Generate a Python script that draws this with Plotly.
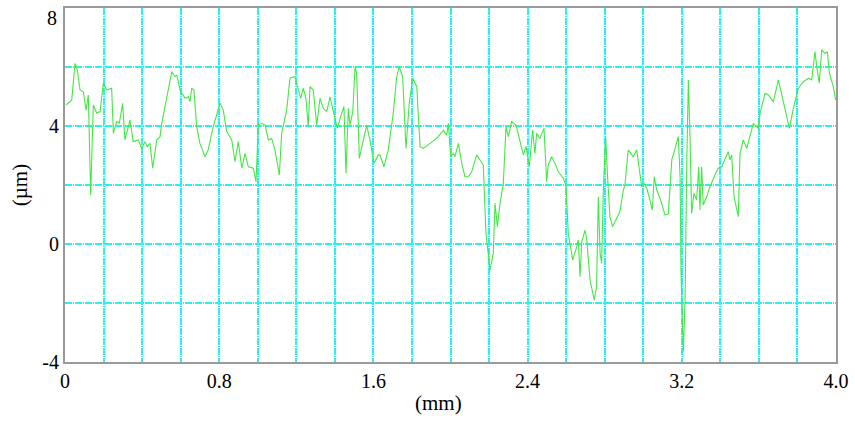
import plotly.graph_objects as go

# Profile position (mm) and height (µm)
x_mm = [0.005, 0.035, 0.052, 0.064, 0.078, 0.095, 0.109, 0.121, 0.133, 0.147, 0.164, 0.182, 0.199, 0.216, 0.242,
        0.251, 0.268, 0.282, 0.299, 0.311, 0.337, 0.354, 0.380, 0.398, 0.415, 0.427, 0.441, 0.455, 0.476, 0.493,
        0.502, 0.519, 0.554, 0.571, 0.580, 0.597, 0.623, 0.640, 0.649, 0.657, 0.669, 0.683, 0.700, 0.726, 0.743,
        0.769, 0.804, 0.821, 0.839, 0.865, 0.882, 0.899, 0.917, 0.934, 0.951, 0.977, 0.991, 1.003, 1.020, 1.038,
        1.055, 1.072, 1.089, 1.112, 1.124, 1.150, 1.167, 1.193, 1.210, 1.223, 1.236, 1.250, 1.262, 1.271, 1.288,
        1.306, 1.323, 1.340, 1.358, 1.375, 1.392, 1.413, 1.430, 1.447, 1.458, 1.470, 1.479, 1.493, 1.505, 1.513,
        1.527, 1.548, 1.565, 1.582, 1.603, 1.625, 1.634, 1.655, 1.677, 1.703, 1.721, 1.734, 1.752, 1.769, 1.786,
        1.804, 1.825, 1.842, 1.859, 1.894, 1.928, 1.963, 1.980, 1.989, 2.001, 2.015, 2.023, 2.041, 2.058, 2.075,
        2.092, 2.110, 2.136, 2.153, 2.170, 2.184, 2.205, 2.222, 2.231, 2.243, 2.257, 2.274, 2.288, 2.300, 2.317,
        2.340, 2.361, 2.378, 2.392, 2.409, 2.426, 2.438, 2.447, 2.464, 2.485, 2.499, 2.507, 2.525, 2.542, 2.559,
        2.585, 2.599, 2.611, 2.634, 2.655, 2.663, 2.672, 2.681, 2.698, 2.707, 2.724, 2.746, 2.758, 2.767, 2.776,
        2.784, 2.793, 2.805, 2.815, 2.827, 2.841, 2.862, 2.879, 2.897, 2.905, 2.922, 2.948, 2.966, 2.979, 2.992,
        3.004, 3.018, 3.035, 3.047, 3.057, 3.070, 3.090, 3.113, 3.130, 3.148, 3.165, 3.182, 3.191, 3.196, 3.208,
        3.217, 3.226, 3.234, 3.243, 3.251, 3.263, 3.277, 3.288, 3.294, 3.303, 3.311, 3.329, 3.346, 3.372, 3.389,
        3.407, 3.424, 3.441, 3.450, 3.459, 3.471, 3.493, 3.502, 3.519, 3.537, 3.554, 3.571, 3.597, 3.606, 3.632,
        3.649, 3.675, 3.701, 3.719, 3.736, 3.758, 3.779, 3.805, 3.831, 3.857, 3.874, 3.891, 3.900, 3.913, 3.926,
        3.943, 3.955, 3.966, 3.986, 3.998]
height_um = [4.71, 4.88, 6.12, 5.90, 5.22, 5.16, 4.54, 5.05, 1.66, 4.71, 4.44, 4.49, 5.45, 5.22, 5.28,
             3.75, 4.15, 4.10, 4.77, 3.53, 4.20, 3.47, 3.53, 3.24, 3.47, 3.30, 3.41, 2.57, 3.53, 3.64,
             4.09, 4.71, 5.84, 5.67, 5.73, 5.22, 4.94, 4.99, 4.82, 5.28, 5.22, 3.98, 3.41, 2.96, 3.19,
             3.98, 4.77, 4.54, 3.81, 3.53, 2.79, 3.47, 2.57, 3.07, 2.62, 2.57, 2.11, 4.03, 4.09, 4.03,
             3.53, 3.58, 3.19, 2.34, 3.75, 4.54, 5.62, 5.67, 5.22, 4.94, 5.28, 4.94, 3.98, 5.33, 5.22,
             4.03, 4.94, 4.60, 4.49, 4.99, 4.49, 3.92, 4.32, 4.66, 2.40, 4.60, 4.03, 4.49, 6.01, 5.79,
             2.90, 3.58, 4.03, 3.53, 2.74, 3.02, 3.02, 2.62, 3.19, 4.43, 5.67, 6.01, 5.67, 3.24, 4.77,
             5.62, 5.33, 3.30, 3.24, 3.41, 3.58, 3.86, 3.69, 4.09, 2.96, 3.07, 2.96, 3.41, 2.74, 2.28,
             2.28, 2.45, 3.02, 2.85, 2.68, 0.36, -0.88, -0.32, 1.38, 0.59, 1.38, 2.06, 3.98, 3.64, 4.15,
             4.03, 3.41, 3.02, 3.30, 2.62, 3.86, 3.07, 3.75, 3.58, 3.92, 2.11, 2.68, 2.96, 2.74, 2.45,
             2.23, 2.00, 0.36, -0.54, -0.09, 0.14, -1.11, 0.08, 0.47, 0.14, -1.22, -1.90, -1.45, 1.60, -0.32,
             -0.65, 1.83, 3.64, 2.28, 0.93, 0.59, 0.87, 1.10, 1.83, 2.00, 3.19, 2.96, 3.19, 2.51, 1.94,
             2.06, 1.89, 1.49, 1.15, 2.28, 1.83, 1.49, 0.98, 1.02, 2.85, 3.24, 3.64, 2.28, -0.99, -3.65,
             -1.90, 2.85, 5.56, 3.53, 1.04, 1.72, 1.49, 2.62, 1.15, 2.62, 1.32, 1.60, 1.94, 2.34, 2.57,
             2.62, 2.85, 3.13, 2.85, 3.02, 1.60, 0.93, 3.07, 3.53, 3.24, 3.69, 4.09, 3.92, 4.43, 5.11,
             5.05, 4.82, 5.56, 5.05, 4.54, 3.92, 4.60, 5.28, 5.50, 5.62, 5.56, 6.52, 6.01, 5.45, 6.58,
             6.46, 6.52, 5.79, 5.33, 4.88]

x_tickvals = [0, 0.8, 1.6, 2.4, 3.2, 4.0]
x_ticktext = ["0", "0.8", "1.6", "2.4", "3.2", "4.0"]
y_tickvals = [-4, 0, 4, 8]
y_ticktext = ["-4", "0", "4", "8"]

FONT = "Liberation Serif"
GRID = "#2eeeee"
AXIS = "#9a9a9a"
DASH = "7px,1px,1px,1px"

fig = go.Figure()
fig.add_trace(go.Scatter(x=x_mm, y=height_um, mode="lines",
                         line=dict(color="#44e844", width=1.1), hoverinfo="skip"))

# the top label sits just inside the figure (top-aligned with the frame), as in the reference
y_top = max(y_tickvals)
y_axis_text = [t if v != y_top else "" for v, t in zip(y_tickvals, y_ticktext)]
top_label = y_ticktext[y_tickvals.index(y_top)]

fig.update_layout(
    width=855, height=421,
    margin=dict(l=65, r=19, t=8, b=59, autoexpand=False),
    paper_bgcolor="white", plot_bgcolor="white",
    showlegend=False,
    font=dict(family=FONT, size=20, color="black"),
    annotations=[
        dict(text="(mm)", x=0.485, y=-0.115, xref="paper", yref="paper",
             showarrow=False, font=dict(family=FONT, size=21), xanchor="center", yanchor="middle"),
        dict(text="(µm)", x=-0.058, y=0.5, xref="paper", yref="paper", textangle=-90,
             showarrow=False, font=dict(family=FONT, size=21), xanchor="center", yanchor="middle"),
        dict(text=top_label, x=0, y=y_top, xref="paper", yref="y", xanchor="right", yanchor="top",
             xshift=-6, yshift=3, showarrow=False, font=dict(family=FONT, size=20)),
    ],
)
fig.update_xaxes(
    range=[0, 4.0], tickvals=x_tickvals, ticktext=x_ticktext,
    showgrid=True, gridcolor=GRID, gridwidth=1.5, griddash=DASH,
    minor=dict(dtick=0.2, tick0=0, showgrid=True, gridcolor=GRID, gridwidth=1.5, griddash=DASH),
    showline=True, linecolor=AXIS, linewidth=2, mirror=True,
    ticks="", zeroline=False, tickfont=dict(family=FONT, size=20),
    ticklabeloverflow="allow", automargin=False,
)
fig.update_yaxes(
    range=[-4, 8], tickvals=y_tickvals, ticktext=y_axis_text,
    showgrid=True, gridcolor=GRID, gridwidth=1.5, griddash=DASH,
    minor=dict(dtick=2, tick0=0, showgrid=True, gridcolor=GRID, gridwidth=1.5, griddash=DASH),
    showline=True, linecolor=AXIS, linewidth=2, mirror=True,
    ticks="", zeroline=False, tickfont=dict(family=FONT, size=20),
    ticklabeloverflow="allow", automargin=False,
)

fig.write_html("out.html")
